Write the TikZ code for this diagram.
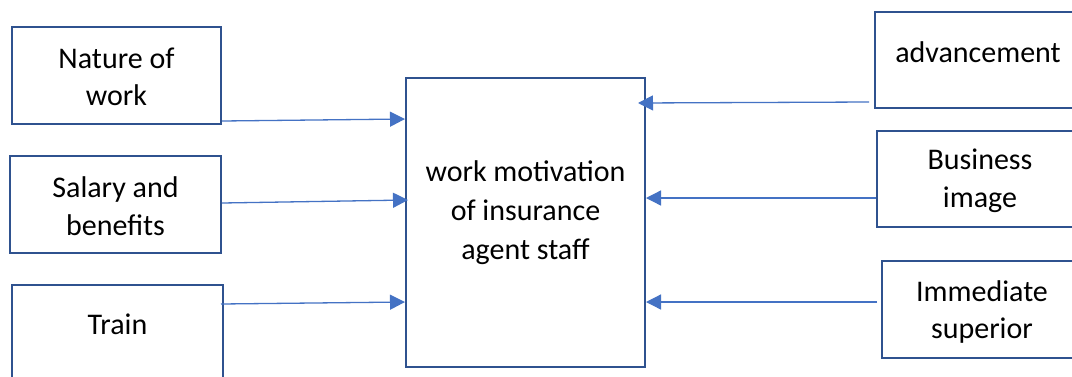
\documentclass[tikz,border=0pt]{standalone}
\usepackage{fontspec}
\setmainfont{Carlito}
\usetikzlibrary{arrows.meta}
\definecolor{boxblue}{HTML}{2F528F}
\definecolor{arrblue}{HTML}{4472C4}
\tikzset{
  box/.style={draw=boxblue, line width=2pt, fill=white, inner sep=0pt},
  txt/.style={align=center, font=\fontsize{30}{37.5}\selectfont, inner sep=0pt},
  arr/.style={draw=arrblue, line width=1.3pt, -{Triangle[length=15pt,width=15pt]}}
}
\begin{document}
\begin{tikzpicture}[x=1pt,y=-1pt]
\useasboundingbox (0,0) rectangle (1072,376);
\clip (0,0) rectangle (1072,376);
\fill[white] (0,0) rectangle (1072,376);
% left boxes
\node[box, minimum width=209pt, minimum height=97pt] (nature) at (116.5,75.5) {};
\node[txt] (naturet) at (116.5,77) {Nature of\\work};
\node[box, minimum width=211pt, minimum height=97pt] (salary) at (115.5,204.5) {};
\node[txt] (salaryt) at (115.5,206) {Salary and\\benefits};
\node[box, minimum width=211pt, minimum height=115pt] (train) at (117.5,342.5) {};
\node[txt] (traint) at (117.5,324) {Train};
% centre
\node[box, minimum width=239pt, minimum height=289pt] (centre) at (525.5,222.5) {};
\node[txt, font=\fontsize{30}{39}\selectfont] (centret) at (525.5,213) {work motivation\\of insurance\\agent staff};
% right boxes
\node[box, minimum width=206pt, minimum height=96pt] (adv) at (978,60) {};
\node[txt] (advt) at (978,52) {advancement};
\node[box, minimum width=206pt, minimum height=96pt] (bus) at (980,179) {};
\node[txt] (bust) at (980,181) {Business\\image};
\node[box, minimum width=200pt, minimum height=97pt] (imm) at (982,309.5) {};
\node[txt] (immt) at (982,312) {Immediate\\superior};
% arrows
\draw[arr] (nature.east |- 0,121) -- (centre.west |- 0,119);
\draw[arr] (salary.east |- 0,203) -- ([xshift=3pt]centre.west |- 0,200);
\draw[arr] ([xshift=-3pt]train.east |- 0,304) -- (centre.west |- 0,302);
\draw[arr] ([xshift=-5pt]adv.west |- 0,102) -- ([xshift=-8pt]centre.east |- 0,103);
\draw[arr] (bus.west |- 0,198) -- (centre.east |- 0,198);
\draw[arr] ([xshift=-4pt]imm.west |- 0,302) -- (centre.east |- 0,302);
\end{tikzpicture}
\end{document}
